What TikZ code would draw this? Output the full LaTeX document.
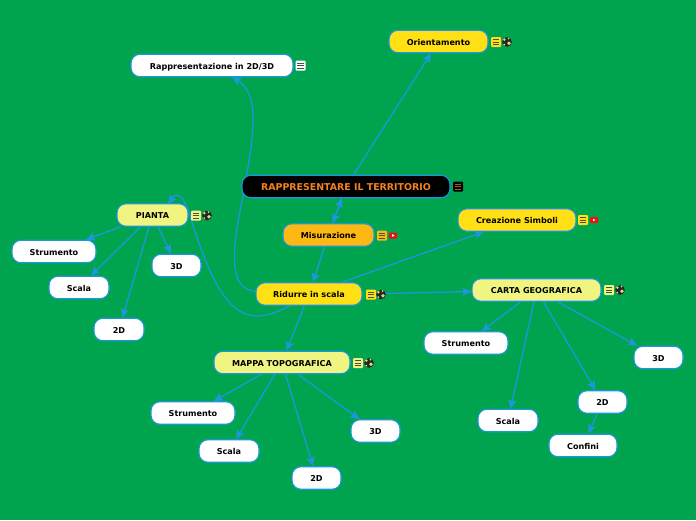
\documentclass[tikz,border=0pt]{standalone}
\usepackage{fontspec}
\setmainfont{DejaVu Sans}[BoldFont={DejaVu Sans Bold}]
\usetikzlibrary{arrows.meta}
\definecolor{bgc}{HTML}{00A44F}
\definecolor{edgec}{HTML}{1E96DC}
\definecolor{yel}{HTML}{FFE014}
\definecolor{ora}{HTML}{FDB813}
\definecolor{lim}{HTML}{F0F582}
\definecolor{roott}{HTML}{F58220}
\definecolor{ytred}{HTML}{F01010}
\tikzset{
 x=1pt,y=-1pt,
 topic/.style={draw=edgec,line width=1.1pt,rounded corners=9pt,inner sep=0pt,font=\fontsize{8.1}{9}\selectfont\bfseries,text=black,anchor=center,text height=7pt,text depth=0pt,minimum height=22.5pt},
 white box/.style={topic,fill=white},
 yellow box/.style={topic,fill=yel},
 orange box/.style={topic,fill=ora},
 lime box/.style={topic,fill=lim},
 root box/.style={topic,fill=black,text=roott,font=\fontsize{9.4}{10}\selectfont\bfseries},
 link/.style={draw=edgec,line width=1.3pt,-{Stealth[length=9pt,width=8pt,inset=1.5pt]}},
}
\newcommand{\wh}[5]{% name, style, center, width, text
 \node[#2,minimum width=#4pt] (#1) at (#3) {#5};}
\newcommand{\noteat}[4]{% x,y,fill,line colour
 \fill[#3,rounded corners=1pt] (#1-5,#2-5) rectangle (#1+5,#2+5);
 \foreach \d in {-2.5,0,2.5} \draw[line width=.8pt,draw=#4] (#1-3.2,#2+\d) -- (#1+3.2,#2+\d);}
\newcommand{\globeat}[2]{%
 \fill[black!85] (#1,#2) circle (4.8pt);
 \fill[lim!90!black] (#1-2.6,#2-2.4) circle (1.4pt);
 \fill[lim!90!black] (#1+2,#2+1.2) circle (1.9pt);
 \fill[lim!90!black] (#1-2.8,#2+2.6) circle (1pt);
 \fill[lim!90!black] (#1+1.5,#2-3.4) circle (.9pt);}
\newcommand{\ytat}[2]{%
 \fill[ytred,rounded corners=1pt] (#1-4,#2-3) rectangle (#1+4,#2+3);
 \fill[white] (#1-1,#2-1.3) -- (#1+1.5,#2) -- (#1-1,#2+1.3) -- cycle;}
\pgfdeclarelayer{front}\pgfsetlayers{main,front}
\begin{document}
\begin{tikzpicture}
\useasboundingbox (0,0) rectangle (696,520);
\fill[bgc] (0,0) rectangle (696,520);
\begin{pgfonlayer}{front}
\wh{root}{root box}{346,186.5}{208}{RAPPRESENTARE IL TERRITORIO}
\wh{orient}{yellow box}{438.5,41.5}{99}{Orientamento}
\wh{rappr}{white box}{212,65.5}{162}{Rappresentazione in 2D/3D}
\wh{misur}{orange box}{328.5,235}{91}{Misurazione}
\wh{simb}{yellow box}{517,220}{118}{Creazione Simboli}
\wh{ridur}{yellow box}{309,294}{106}{Ridurre in scala}
\wh{carta}{lime box}{536.5,290}{129}{CARTA GEOGRAFICA}
\wh{pianta}{lime box}{152.5,215}{71}{PIANTA}
\wh{pstr}{white box}{54,251.5}{84}{Strumento}
\wh{psca}{white box}{79,287.5}{60}{Scala}
\wh{ptre}{white box}{176.5,265.5}{49}{3D}
\wh{pdue}{white box}{119,329.5}{50}{2D}
\wh{mappa}{lime box}{282,362.5}{136}{MAPPA TOPOGRAFICA}
\wh{mstr}{white box}{193,413}{84}{Strumento}
\wh{msca}{white box}{229,451}{60}{Scala}
\wh{mdue}{white box}{316.5,478}{49}{2D}
\wh{mtre}{white box}{375.5,431}{49}{3D}
\wh{cstr}{white box}{466,343}{84}{Strumento}
\wh{csca}{white box}{508,420.5}{60}{Scala}
\wh{cdue}{white box}{602.5,402}{49}{2D}
\wh{conf}{white box}{583,445.5}{68}{Confini}
\wh{ctre}{white box}{658.5,357.5}{49}{3D}
\noteat{458}{186.5}{black}{roott!70!black}
\noteat{496}{42}{yel}{black!70}\globeat{507}{42}
\noteat{300.5}{65.5}{white}{black!70}
\noteat{382}{235.5}{ora}{black!70}\ytat{393}{235.5}
\noteat{583}{220}{yel}{black!70}\ytat{594}{220}
\noteat{371}{294.5}{yel}{black!70}\globeat{381}{294.5}
\noteat{609}{290}{lim}{black!70}\globeat{620}{290}
\noteat{196}{215.5}{lim}{black!70}\globeat{207}{215.5}
\noteat{358}{363}{lim}{black!70}\globeat{369}{363}
\end{pgfonlayer}
\coordinate (ridurout) at (385,293.5);
\coordinate (rapprin) at (232,77);
\coordinate (piantain) at (168,204);
\draw[link] (misur) -- (root);
\draw[link] (root) -- (misur);
\draw[link] (root) -- (orient);
\draw[link] (misur) -- (ridur);
\draw[link] (ridur) -- (simb);
\draw[link] (ridurout) -- (carta);
\draw[link] (ridur) -- (mappa);
\draw[link] (ridur.center) -- (256,291.5) .. controls (236,290) and (233,270) .. (235,245) .. controls (238,215) and (245,190) .. (247,173) .. controls (251,150) and (253,135) .. (253,117) .. controls (253,95) and (245,85) .. (rapprin);
\draw[link] (ridur.center) .. controls (290,307) and (272,316) .. (257,316) .. controls (225,316) and (208,270) .. (193,226) .. controls (186,198) and (178,190) .. (piantain);
\draw[link] (pianta) -- (pstr);
\draw[link] (pianta) -- (psca);
\draw[link] (pianta) -- (ptre);
\draw[link] (pianta) -- (pdue);
\draw[link] (mappa) -- (mstr);
\draw[link] (mappa) -- (msca);
\draw[link] (mappa) -- (mdue);
\draw[link] (mappa) -- (mtre);
\draw[link] (carta) -- (cstr);
\draw[link] (carta) -- (csca);
\draw[link] (carta) -- (cdue);
\draw[link] (carta) -- (ctre);
\draw[link] (cdue) -- (conf);
\end{tikzpicture}
\end{document}
